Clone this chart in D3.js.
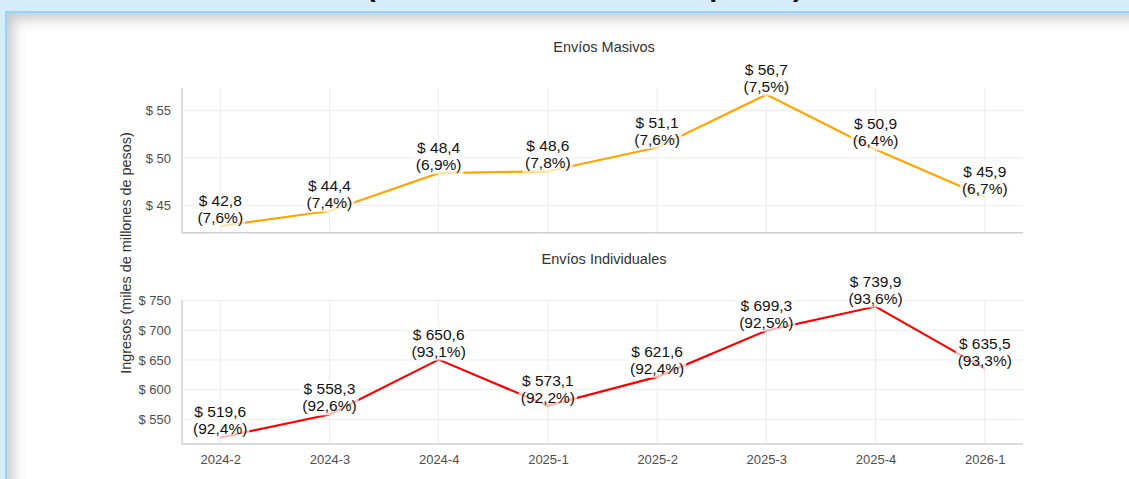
<!DOCTYPE html>
<html>
<head>
<meta charset="utf-8">
<script src="https://cdn.jsdelivr.net/npm/d3@7"></script>
<style>
  html, body { margin: 0; padding: 0; width: 1129px; height: 479px; overflow: hidden; background: #d5ecfa; }
  #card { position: absolute; left: 5px; top: 11px; width: 1300px; height: 600px; background: #ffffff;
          border-left: 2px solid #93d6f5; border-top: 2px solid #93d6f5;
          box-shadow: inset 6px 6px 14px rgba(0,0,0,0.22); }
  svg { position: absolute; left: 0; top: 0; }
  text { font-family: "Liberation Sans", Arial, sans-serif; }
</style>
</head>
<body>
<div id="card"></div>
<svg id="chart" width="1129" height="479"></svg>
<script>
const categories = ["2024-2", "2024-3", "2024-4", "2025-1", "2025-2", "2025-3", "2025-4", "2026-1"];
const masivos = [42.8, 44.4, 48.4, 48.6, 51.1, 56.7, 50.9, 45.9];
const masivosPct = [7.6, 7.4, 6.9, 7.8, 7.6, 7.5, 6.4, 6.7];
const individuales = [519.6, 558.3, 650.6, 573.1, 621.6, 699.3, 739.9, 635.5];
const individualesPct = [92.4, 92.6, 93.1, 92.2, 92.4, 92.5, 93.6, 93.3];
const masivosTicks = [45, 50, 55];
const individualesTicks = [550, 600, 650, 700, 750];
const titleText = "(en miles de millones de pesos)";
const yAxisTitle = "Ingresos (miles de millones de pesos)";

const svg = d3.select("#chart");
const fmt = v => v.toFixed(1).replace(".", ",");

// page title, cut off by the top edge as in the reference
svg.append("text").attr("x", 366).attr("y", -4.5)
  .attr("font-size", 29).attr("font-weight", "bold").attr("fill", "#111")
  .text(titleText);

const x = d3.scalePoint().domain(categories).range([182, 1023]).padding(0.35);

const panels = [
  { title: "Envíos Masivos", values: masivos, pct: masivosPct, ticks: masivosTicks, color: "#FFA500", top: 88, bottom: 232.7, titleY: 52 },
  { title: "Envíos Individuales", values: individuales, pct: individualesPct, ticks: individualesTicks, color: "#FF0000", top: 300, bottom: 444, titleY: 264 }
];

panels.forEach((p, pi) => {
  const mn = d3.min(p.values), mx = d3.max(p.values), span = mx - mn;
  const y = d3.scaleLinear().domain([mn - 0.05 * span, mx + 0.05 * span]).range([p.bottom, p.top]);
  const g = svg.append("g");

  // grid
  g.selectAll(".hg").data(p.ticks).enter().append("line")
    .attr("x1", 182).attr("x2", 1023).attr("y1", d => y(d)).attr("y2", d => y(d))
    .attr("stroke", "#ebebeb").attr("stroke-width", 1);
  g.selectAll(".vg").data(categories).enter().append("line")
    .attr("x1", d => x(d)).attr("x2", d => x(d)).attr("y1", p.top).attr("y2", p.bottom)
    .attr("stroke", "#ebebeb").attr("stroke-width", 1);

  // y axis
  const ya = d3.axisLeft(y).tickValues(p.ticks).tickSize(0).tickPadding(11).tickFormat(d => "$ " + d);
  const yg = g.append("g").attr("transform", "translate(182,0)").call(ya);
  yg.select(".domain").remove();
  yg.selectAll("text").attr("font-size", 13).attr("fill", "#4d4d4d").attr("font-family", "Liberation Sans, Arial, sans-serif");

  // axis lines
  g.append("line").attr("x1", 182).attr("x2", 182).attr("y1", p.top).attr("y2", p.bottom).attr("stroke", "#cfcfcf").attr("stroke-width", 1.5);
  g.append("line").attr("x1", 182).attr("x2", 1023).attr("y1", p.bottom).attr("y2", p.bottom).attr("stroke", "#cfcfcf").attr("stroke-width", 1.5);

  if (pi === 1) {
    const xa = d3.axisBottom(x).tickSize(0).tickPadding(11);
    const xg = g.append("g").attr("transform", `translate(0,${p.bottom})`).call(xa);
    xg.select(".domain").remove();
    xg.selectAll("text").attr("font-size", 13).attr("fill", "#4d4d4d").attr("font-family", "Liberation Sans, Arial, sans-serif");
  }

  // panel title
  g.append("text").attr("x", 604).attr("y", p.titleY).attr("text-anchor", "middle")
    .attr("font-size", 14.5).attr("fill", "#333").text(p.title);

  // line
  const line = d3.line().x((d, i) => x(categories[i])).y(d => y(d));
  g.append("path").datum(p.values).attr("d", line).attr("fill", "none")
    .attr("stroke", p.color).attr("stroke-width", 2.2);

  // labels
  p.values.forEach((v, i) => {
    const cx = x(categories[i]), cy = y(v);
    const lg = g.append("g");
    const rect = lg.append("rect").attr("fill", "#fff").attr("fill-opacity", 0.7);
    const t = lg.append("text").attr("text-anchor", "middle").attr("font-size", 15.5).attr("fill", "#111");
    t.append("tspan").attr("x", cx).attr("y", cy - 20).text("$ " + fmt(v));
    t.append("tspan").attr("x", cx).attr("y", cy - 3).text("(" + fmt(p.pct[i]) + "%)");
    const bb = t.node().getBBox();
    rect.attr("x", bb.x - 2).attr("y", bb.y).attr("width", bb.width + 4).attr("height", bb.height + 1);
  });
});

// y axis title
svg.append("text").attr("transform", "translate(131,253) rotate(-90)").attr("text-anchor", "middle")
  .attr("font-size", 14.4).attr("fill", "#333").text(yAxisTitle);
</script>
</body>
</html>
